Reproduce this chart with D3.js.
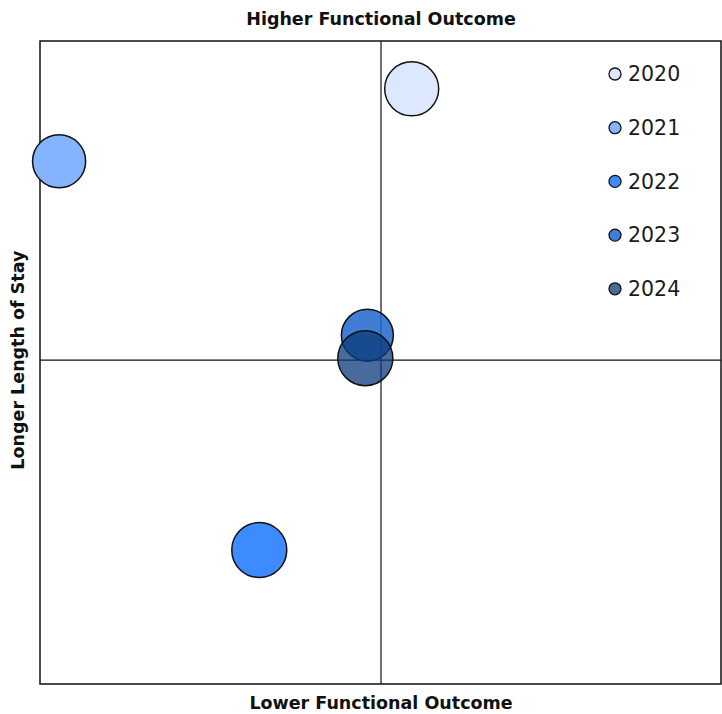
<!DOCTYPE html>
<html lang="en">
<head>
<meta charset="utf-8">
<title>Functional outcome vs length of stay</title>
<script src="https://cdn.jsdelivr.net/npm/d3@7"></script>
<style>
  body { margin: 0; background: #fff; }
  svg { display: block; font-family: "DejaVu Sans", sans-serif; }
  .title { font-weight: 700; font-size: 17.5px; fill: #111; }
  .legend text { font-size: 20.5px; fill: #1a1a1a; }
</style>
</head>
<body>
<svg id="chart" width="722" height="714"></svg>
<script>
// one bubble per year
var years = ["2020", "2021", "2022", "2023", "2024"];
var outcome = [0.09, -0.944, -0.357, -0.04, -0.046];   // x: functional outcome
var stay = [0.85, 0.623, -0.595, 0.078, 0.006];       // y: length of stay
var volume = [930, 900, 965, 860, 965];               // bubble size
var colors = ["#dbe8fd", "#84b4ff", "#3d8bff", "#1f66cc", "#0b3a7a"];
var opacity = [1, 1, 1, 0.85, 0.75];

var svg = d3.select("#chart"),
    margin = { top: 41, right: 1, bottom: 30, left: 40 },
    width = +svg.attr("width") - margin.left - margin.right,
    height = +svg.attr("height") - margin.top - margin.bottom;

var x = d3.scaleLinear().domain([-1, 0.997]).range([margin.left, margin.left + width]);
var y = d3.scaleLinear().domain([-1.015, 1]).range([margin.top + height, margin.top]);
var r = d3.scaleSqrt().domain([0, d3.max(volume)]).range([0, 27.5]);

var data = years.map(function (d, i) {
  return { year: d, x: outcome[i], y: stay[i], v: volume[i], color: colors[i], op: opacity[i] };
});

// frame
svg.append("rect")
  .attr("x", margin.left)
  .attr("y", margin.top)
  .attr("width", width)
  .attr("height", height)
  .attr("fill", "none")
  .attr("stroke", "#111")
  .attr("stroke-width", 1.5);

// quadrant lines
svg.append("line")
  .attr("x1", x(0)).attr("x2", x(0))
  .attr("y1", margin.top).attr("y2", margin.top + height)
  .attr("stroke", "#111").attr("stroke-width", 1.2);
svg.append("line")
  .attr("x1", margin.left).attr("x2", margin.left + width)
  .attr("y1", y(0)).attr("y2", y(0))
  .attr("stroke", "#111").attr("stroke-width", 1.2);

// bubbles
svg.append("g")
  .selectAll("circle")
  .data(data)
  .enter().append("circle")
  .attr("cx", function (d) { return x(d.x); })
  .attr("cy", function (d) { return y(d.y); })
  .attr("r", function (d) { return r(d.v); })
  .attr("fill", function (d) { return d.color; })
  .attr("fill-opacity", function (d) { return d.op; })
  .attr("stroke", "#111")
  .attr("stroke-width", 1.5);

// titles
svg.append("text")
  .attr("class", "title")
  .attr("x", x(0))
  .attr("y", 25)
  .attr("text-anchor", "middle")
  .text("Higher Functional Outcome");

svg.append("text")
  .attr("class", "title")
  .attr("x", x(0))
  .attr("y", 709)
  .attr("text-anchor", "middle")
  .text("Lower Functional Outcome");

svg.append("text")
  .attr("class", "title")
  .attr("transform", "translate(24," + y(0) + ") rotate(-90)")
  .attr("text-anchor", "middle")
  .text("Longer Length of Stay");

// legend
var legend = svg.append("g")
  .attr("class", "legend")
  .selectAll("g")
  .data(data)
  .enter().append("g")
  .attr("transform", function (d, i) { return "translate(615," + (74 + i * 53.7) + ")"; });

legend.append("circle")
  .attr("r", 6)
  .attr("fill", function (d) { return d.color; })
  .attr("fill-opacity", function (d) { return d.op; })
  .attr("stroke", "#111")
  .attr("stroke-width", 1.3);

legend.append("text")
  .attr("x", 13)
  .attr("dy", "0.36em")
  .text(function (d) { return d.year; });
</script>
</body>
</html>
